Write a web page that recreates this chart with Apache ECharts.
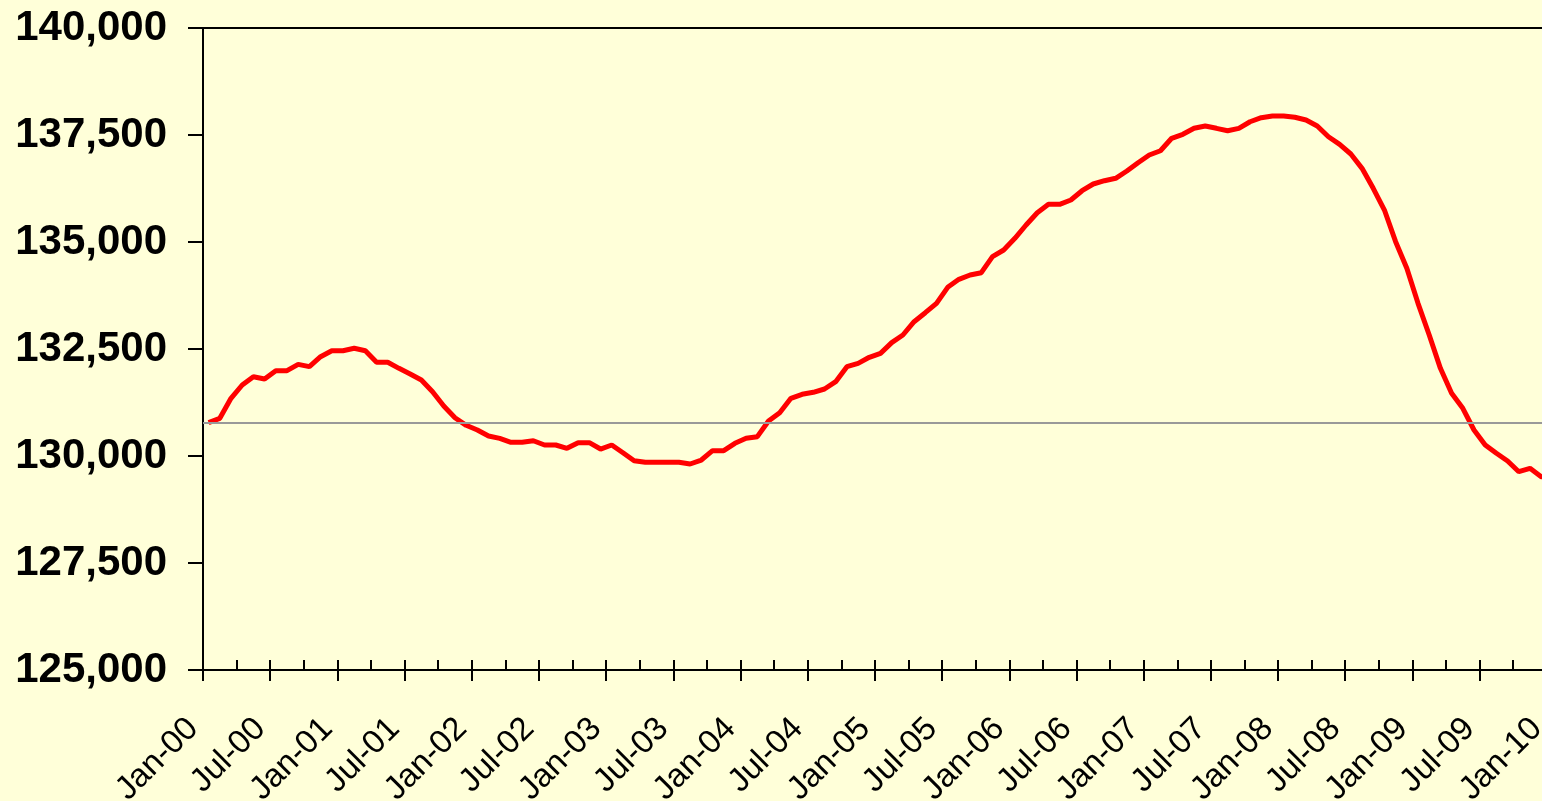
<!DOCTYPE html>
<html>
<head>
<meta charset="utf-8">
<title>Employment 2000-2010</title>
<script src="https://cdn.jsdelivr.net/npm/echarts/dist/echarts.min.js"></script>
<style>
html, body { margin: 0; padding: 0; background: #FFFFD9; overflow: hidden; }
#main { width: 1542px; height: 801px; }
</style>
</head>
<body>
<div id="main"></div>
<script>
// 月份（Jan-00 ... Jan-10）
var monthNames = ['Jan','Feb','Mar','Apr','May','Jun','Jul','Aug','Sep','Oct','Nov','Dec'];
var categories = [];
for (var y = 0; y <= 10; y++) {
    for (var m = 0; m < 12; m++) {
        if (y === 10 && m > 0) break;
        categories.push(monthNames[m] + '-' + (y < 10 ? '0' + y : '' + y));
    }
}

// 每月数值
var employment = [
    130781, 130880, 131348, 131659, 131853, 131799, 131993, 131993, 132142, 132087, 132320, 132460, // 2000
    132460, 132516, 132460, 132189, 132189, 132048, 131916, 131776, 131502, 131168, 130895, 130717, // 2001
    130607, 130467, 130413, 130320, 130320, 130357, 130257, 130257, 130179, 130311, 130311, 130163, // 2002
    130257, 130077, 129890, 129852, 129852, 129852, 129852, 129813, 129906, 130124, 130124, 130296, // 2003
    130413, 130452, 130818, 131012, 131348, 131441, 131488, 131565, 131736, 132087, 132165, 132306, // 2004
    132399, 132648, 132827, 133138, 133348, 133567, 133941, 134128, 134229, 134283, 134657, 134813, // 2005
    135086, 135397, 135684, 135880, 135880, 135981, 136198, 136355, 136432, 136488, 136659, 136853, // 2006
    137032, 137133, 137423, 137516, 137656, 137710, 137656, 137600, 137656, 137810, 137904, 137944, // 2007
    137944, 137914, 137850, 137710, 137460, 137282, 137056, 136721, 136254, 135747, 135007, 134385, // 2008
    133567, 132827, 132048, 131465, 131114, 130607, 130257, 130063, 129883, 129633, 129711, 129516, // 2009
    129480 // 2010
];

// 参考线（起点水平）
var refLevel = [130781];

// y轴刻度
var yTicks = [125000, 127500, 130000, 132500, 135000, 137500, 140000];

var chart = echarts.init(document.getElementById('main'));
chart.setOption({
    backgroundColor: '#FFFFD9',
    animation: false,
    grid: {
        left: 203,
        top: 28,
        width: 1355,   // 右边超出画面，和原图一样被裁掉
        height: 642,
        show: true,
        backgroundColor: '#FFFFD9',
        borderColor: '#000',
        borderWidth: 2,
        outerBoundsMode: 'none'
    },
    xAxis: [{
        type: 'category',
        data: categories,
        boundaryGap: true,
        axisLine: { lineStyle: { color: '#000', width: 2 } },
        axisTick: { show: true, inside: true, length: 10, interval: 2, lineStyle: { color: '#000', width: 2 } }, // 每3个月一个小刻度
        axisLabel: {
            interval: 5,   // 每6个月一个标签
            rotate: 45,
            margin: 38,
            padding: [0, 22, 0, 0], // 让标签末端往左下挪一点
            color: '#000',
            fontFamily: 'Liberation Sans, Arial, sans-serif',
            fontSize: 33
        },
        splitLine: { show: false }
    }, {
        type: 'category',
        data: categories,
        position: 'bottom',
        boundaryGap: true,
        axisLine: { show: false },
        axisTick: { show: true, inside: false, length: 11, interval: 5, lineStyle: { color: '#000', width: 2 } }, // 半年刻度穿过轴线
        axisLabel: { show: false },
        splitLine: { show: false }
    }],
    yAxis: {
        type: 'value',
        min: yTicks[0],
        max: yTicks[yTicks.length - 1],
        interval: 2500,
        axisLine: { show: true, lineStyle: { color: '#000', width: 2 } },
        axisTick: { show: true, length: 15, lineStyle: { color: '#000', width: 2 } },
        axisLabel: {
            margin: 36,
            color: '#000',
            fontWeight: 'bold',
            fontFamily: 'Liberation Sans, Arial, sans-serif',
            fontSize: 42,
            formatter: function (v) {
                return String(v).replace(/\B(?=(\d{3})+(?!\d))/g, ',');
            }
        },
        splitLine: { show: false }
    },
    series: [{
        type: 'line',
        data: employment,
        xAxisIndex: 0,
        showSymbol: false,
        symbol: 'none',
        lineStyle: { color: '#FF0000', width: 5 },
        markLine: {
            silent: true,
            symbol: 'none',
            label: { show: false },
            lineStyle: { color: '#999999', width: 2, type: 'solid' },
            data: [{ yAxis: refLevel[0] }]
        },
        z: 3
    }]
});
</script>
</body>
</html>
